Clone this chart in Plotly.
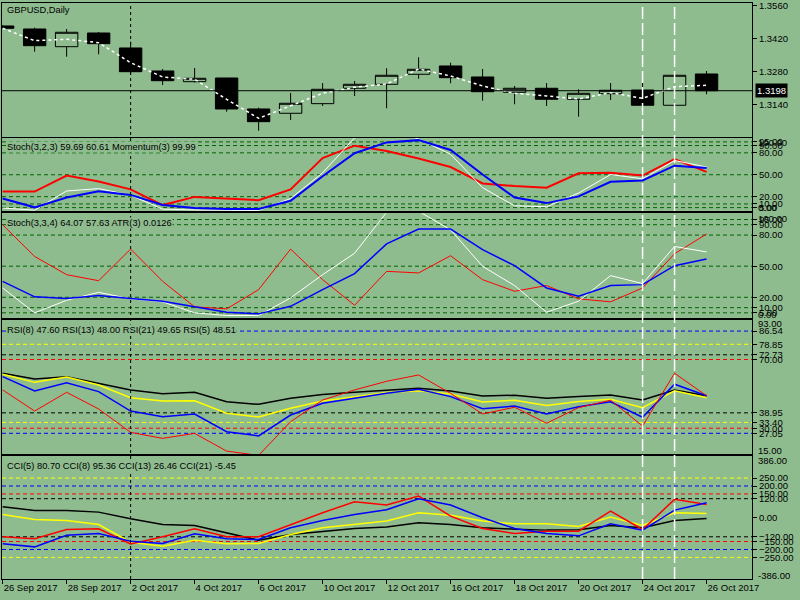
import plotly.graph_objects as go

BG = '#8FBC8F'
FONT = 'Liberation Sans'

# trading days shown on the chart
dates = ['26 Sep 2017', '27 Sep 2017', '28 Sep 2017', '29 Sep 2017', '2 Oct 2017',
         '3 Oct 2017', '4 Oct 2017', '5 Oct 2017', '6 Oct 2017', '9 Oct 2017',
         '10 Oct 2017', '11 Oct 2017', '12 Oct 2017', '13 Oct 2017', '16 Oct 2017',
         '17 Oct 2017', '18 Oct 2017', '19 Oct 2017', '20 Oct 2017', '23 Oct 2017',
         '24 Oct 2017', '25 Oct 2017', '26 Oct 2017']

# GBPUSD daily candles
opens = [1.34735, 1.34607, 1.33854, 1.34437, 1.33799, 1.32820, 1.32365, 1.32522,
         1.31203, 1.31020, 1.31429, 1.32084, 1.32254, 1.32680, 1.33033, 1.32565,
         1.31914, 1.32084, 1.31616, 1.31854, 1.32011, 1.31361, 1.32692]
highs = [1.34760, 1.34662, 1.34607, 1.34479, 1.34067, 1.32905, 1.32948, 1.32531,
         1.31258, 1.31884, 1.32309, 1.32394, 1.32935, 1.33403, 1.33173, 1.32905,
         1.32182, 1.32309, 1.32041, 1.32309, 1.32309, 1.32735, 1.32820]
lows = [1.34630, 1.33641, 1.33428, 1.33531, 1.32650, 1.32224, 1.32331, 1.31088,
        1.30280, 1.30735, 1.31331, 1.31756, 1.31233, 1.32492, 1.32297, 1.31556,
        1.31403, 1.31331, 1.30875, 1.31586, 1.31131, 1.31088, 1.31829]
closes = [1.34637, 1.33896, 1.34467, 1.33982, 1.32790, 1.32407, 1.32509, 1.31203,
          1.30663, 1.31446, 1.32041, 1.32254, 1.32637, 1.32892, 1.32535, 1.31939,
          1.32084, 1.31616, 1.31871, 1.31999, 1.31361, 1.32637, 1.31980]
ma = [1.34637, 1.34109, 1.34169, 1.34024, 1.33173, 1.32565, 1.32467, 1.31616,
      1.30807, 1.31331, 1.31871, 1.32126, 1.32267, 1.32905, 1.32607, 1.32182,
      1.31871, 1.31756, 1.31629, 1.31897, 1.31658, 1.32152, 1.32211]
price_ticks = [1.3140, 1.3280, 1.3420, 1.3560]

# Stoch(3,2,3) + Momentum(3) window
stoch1_main = [17.5, 5.4, 18.9, 27.4, 22.4, 8.5, 4.4, 3.1, 3.1, 14.3, 48, 79.5,
               94.3, 97.4, 84, 50.3, 18.9, 11.2, 20.4, 40.4, 42.2, 62.4, 59.3]
stoch1_signal = [4.4, 1.5, 27.8, 31, 22, 3, 1.8, 1, 1, 17.5, 52.6, 100.5,
                 112, 99, 78, 32.3, 7.5, 6.2, 25, 50.3, 44.5, 69.5, 60.6]
momentum = [27, 27, 49, 40.8, 30, 8.5, 19.7, 17.9, 15.2, 30, 72.8, 89.8,
            82.6, 72.3, 60.6, 38.1, 34.5, 32.3, 52, 52.6, 48.9, 71.4, 53.9]
stoch_levels = [5, 10, 20, 50, 80, 90, 95]
stoch_minmax = (0, 100)

# Stoch(3,3,4) + ATR(3) window
stoch2_main = [35.4, 20.4, 18.8, 21.6, 18.8, 16.2, 10.8, 5.6, 4, 11.3, 27.4, 42.8,
               71.5, 85.8, 85.8, 65.9, 50.5, 29, 21, 31.3, 32.2, 50.5, 56.9]
stoch2_signal = [29, 5, 17.1, 24.8, 18.5, 15.6, 5, 2.4, 2.4, 19.4, 41.8, 62.5,
                 102, 103, 85.1, 49.8, 31.3, 5.6, 16.2, 40.9, 33.2, 69, 63.7]
atr = [89.9, 59.4, 41.8, 36, 66.5, 35.4, 10.8, 8.8, 27.4, 66.5, 37, 12.3,
       45, 43.5, 60.1, 37, 25.8, 31.3, 18.5, 15.6, 29, 62, 81]

# RSI window
rsi21 = [62, 58.7, 60, 56.2, 52.3, 50.1, 50.9, 45.4, 43.9, 47.4, 49.7, 50.9,
         52, 53.2, 51.7, 48.8, 49.2, 47.4, 48.4, 49.3, 46.4, 52.3, 48.9]
rsi13 = [61.4, 56.7, 59.8, 55.2, 47.8, 45.8, 46, 38.7, 36.5, 41.6, 45.8, 48.4,
         50.8, 51.8, 49.9, 45.3, 46.3, 43.3, 45.5, 46.8, 42, 51.8, 47.8]
rsi8 = [60, 51.7, 56.5, 51.3, 40, 36.7, 38.3, 28, 25.5, 37.7, 44.5, 47.4,
        50.4, 52.7, 48.4, 41.4, 42.9, 38.3, 42.5, 45.4, 36.4, 55.6, 48.9]
rsi5 = [52.3, 40, 50.9, 41.2, 27.6, 24.1, 27, 16.7, 14.2, 33.8, 46.4, 52.3,
        57.3, 61, 50.3, 38.3, 42.2, 32.9, 42, 46.3, 31.3, 62, 48.9]
rsi_levels = [(86.54, 'blue'), (78.85, 'yellow'), (72.73, 'black'), (70.0, 'red'),
              (38.95, 'black'), (33.40, 'yellow'), (30.0, 'red'), (27.05, 'blue')]
rsi_minmax = (15, 93)

# CCI window
cci21 = [69.6, 46, 46, 35.4, -6.3, -42.4, -48.7, -95, -141.8, -105.7, -84.8, -67.7,
         -58, -32, -42, -63, -72, -78, -76, -48.7, -63.3, -17.1, -4.4]
cci13 = [20.9, -10.8, -17.1, -42.4, -154, -179.7, -141.8, -164.6, -162.7, -105.7, -63.3, -42.4,
         -20, 32, 16, -21, -38, -38, -55, 3.8, -48.7, 31.6, 27]
cci5 = [-120, -133, -74, -69.6, -164.6, -120, -69.6, -120, -120, -42.4, 31.6, 101,
        80, 137, 10, -68, -99, -85, -85, 41.8, -74, 115.8, 84]
cci8 = [-164.6, -183.5, -110, -99.4, -148, -162.7, -101.3, -133, -137.3, -63.3, -17.1, 20.9,
        50, 120, 80, 0, -68, -99, -114, -38, -78.5, 48, 95]
cci_levels = [(250, 'yellow'), (200, 'blue'), (150, 'red'), (120, 'black'),
              (-120, 'black'), (-150, 'red'), (-200, 'blue'), (-250, 'yellow')]
cci_minmax = (-386, 386)

x = list(range(len(dates)))

fig = go.Figure()

fig.add_trace(go.Candlestick(
    x=x, open=opens, high=highs, low=lows, close=closes,
    increasing=dict(fillcolor=BG, line=dict(color='black', width=1)),
    decreasing=dict(fillcolor='black', line=dict(color='black', width=1)),
    whiskerwidth=0, hoverinfo='skip', xaxis='x', yaxis='y'))
fig.add_trace(go.Scatter(x=x, y=ma, mode='lines',
                         line=dict(color='white', width=1.5, dash='3px,3px'),
                         xaxis='x', yaxis='y'))


def line(y, color, width, xa, ya):
    fig.add_trace(go.Scatter(x=x, y=y, mode='lines', line=dict(color=color, width=width),
                             xaxis=xa, yaxis=ya, hoverinfo='skip'))


line(momentum, 'red', 2, 'x2', 'y2')
line(stoch1_signal, 'white', 1, 'x2', 'y2')
line(stoch1_main, 'blue', 2, 'x2', 'y2')

line(atr, 'red', 1, 'x3', 'y3')
line(stoch2_signal, 'white', 1, 'x3', 'y3')
line(stoch2_main, 'blue', 1.5, 'x3', 'y3')

line(rsi21, 'black', 1.5, 'x4', 'y4')
line(rsi13, 'yellow', 1.5, 'x4', 'y4')
line(rsi8, 'blue', 1.5, 'x4', 'y4')
line(rsi5, 'red', 1, 'x4', 'y4')

line(cci21, 'black', 1.5, 'x5', 'y5')
line(cci13, 'yellow', 1.5, 'x5', 'y5')
line(cci5, 'red', 1.5, 'x5', 'y5')
line(cci8, 'blue', 1.5, 'x5', 'y5')

shapes = []
for lv in stoch_levels:
    for ya in ('y2', 'y3'):
        shapes.append(dict(type='line', xref='paper', x0=0, x1=1, yref=ya, y0=lv, y1=lv,
                           line=dict(color='#006400', width=1, dash='4px,3px'), layer='below'))
for lv, c in rsi_levels:
    shapes.append(dict(type='line', xref='paper', x0=0, x1=1, yref='y4', y0=lv, y1=lv,
                       line=dict(color=c, width=1, dash='4px,3px'), layer='below'))
for lv, c in cci_levels:
    shapes.append(dict(type='line', xref='paper', x0=0, x1=1, yref='y5', y0=lv, y1=lv,
                       line=dict(color=c, width=1, dash='4px,3px'), layer='below'))

# current price line
shapes.append(dict(type='line', xref='paper', x0=0, x1=1, yref='y', y0=closes[-1], y1=closes[-1],
                   line=dict(color='black', width=1)))
# vertical separators
shapes.append(dict(type='line', xref='x', x0=4, x1=4, yref='paper', y0=0, y1=1,
                   line=dict(color='black', width=1, dash='3px,3px')))
for xi in (20, 21):
    shapes.append(dict(type='line', xref='x', x0=xi, x1=xi, yref='paper', y0=0, y1=1,
                       line=dict(color='white', width=1.5, dash='12px,4px')))

labels = [
    ('GBPUSD,Daily', 0.9884),
    ('Stoch(3,2,3) 59.69 60.61 Momentum(3) 99.99', 0.7500),
    ('Stoch(3,3,4) 64.07 57.63 ATR(3) 0.0126', 0.6172),
    ('RSI(8) 47.60 RSI(13) 48.00 RSI(21) 49.65 RSI(5) 48.51', 0.4323),
    ('CCI(5) 80.70 CCI(8) 95.36 CCI(13) 26.46 CCI(21) -5.45', 0.1970),
]
annotations = [dict(text=t, xref='paper', yref='paper', x=0.0053, y=yy, xanchor='left',
                    yanchor='middle', showarrow=False, bgcolor=BG, borderpad=0,
                    font=dict(family=FONT, size=9.3, color='black'))
               for t, yy in labels]
annotations.append(dict(text='%.4f' % closes[-1], xref='paper', yref='y', x=1, y=closes[-1],
                        xanchor='left', yanchor='middle', xshift=3, showarrow=False,
                        bgcolor='black', borderpad=1,
                        font=dict(family=FONT, size=9.5, color='white')))

# window min/max values are written just inside the window edges
for ya, (lo, hi) in (('y2', stoch_minmax), ('y3', stoch_minmax), ('y4', rsi_minmax), ('y5', cci_minmax)):
    for v, shift in ((hi, -4), (lo, 4)):
        annotations.append(dict(text='%.2f' % v, xref='paper', yref=ya, x=1, y=v,
                                xanchor='left', yanchor='middle', xshift=5, yshift=shift,
                                showarrow=False, borderpad=0,
                                font=dict(family=FONT, size=9.5, color='black')))

xrange = [-0.02, 23.42]
domains = [[0.7679, 1.0], [0.6384, 0.7656], [0.4531, 0.6349], [0.2170, 0.4497], [0.0, 0.2127]]

layout = dict(
    width=800, height=600,
    margin=dict(l=2, r=48, t=3, b=21),
    paper_bgcolor=BG, plot_bgcolor=BG,
    showlegend=False,
    font=dict(family=FONT, size=9.5, color='black'),
    shapes=shapes, annotations=annotations,
    hovermode=False,
    boxgap=0, boxgroupgap=0.3,
)

yspecs = [
    dict(range=[1.30024, 1.35713], tickvals=price_ticks, tickformat='.4f'),
    dict(range=[0, 100.3], tickvals=stoch_levels, tickformat='.2f'),
    dict(range=[0, 101], tickvals=stoch_levels, tickformat='.2f'),
    dict(range=list(rsi_minmax), tickvals=[lv for lv, _ in rsi_levels], tickformat='.2f'),
    dict(range=list(cci_minmax), tickvals=[0] + [lv for lv, _ in cci_levels], tickformat='.2f'),
]

for i in range(5):
    n = '' if i == 0 else str(i + 1)
    xa = dict(domain=[0, 1], range=xrange, anchor='y' + n, showgrid=False, zeroline=False,
              showline=True, mirror=True, linecolor='black', linewidth=1,
              showticklabels=False, ticks='', fixedrange=True, automargin=False)
    if i > 0:
        xa['matches'] = 'x'
    if i == 4:
        xa.update(showticklabels=True, ticks='outside', ticklen=4, tickcolor='black',
                  tickvals=x[::2], ticktext=dates[::2], ticklabelposition='outside right',
                  ticklabeloverflow='allow',
                  tickfont=dict(family=FONT, size=9.5, color='black'))
    if i == 0:
        xa['rangeslider'] = dict(visible=False)
    ya = dict(domain=domains[i], anchor='x' + n, side='right', showgrid=False, zeroline=False,
              showline=True, mirror=True, linecolor='black', linewidth=1,
              ticks='outside', ticklen=4, tickcolor='black', automargin=False,
              ticklabeloverflow='allow',
              tickfont=dict(family=FONT, size=9.5, color='black'), fixedrange=True)
    ya.update(yspecs[i])
    layout['xaxis' + n] = xa
    layout['yaxis' + n] = ya

fig.update_layout(**layout)

# the page body has a default 8px margin; remove it so the figure fills the window
fig.write_html('out.html', config={'displayModeBar': False},
               post_script="document.body.style.margin='0px';")
